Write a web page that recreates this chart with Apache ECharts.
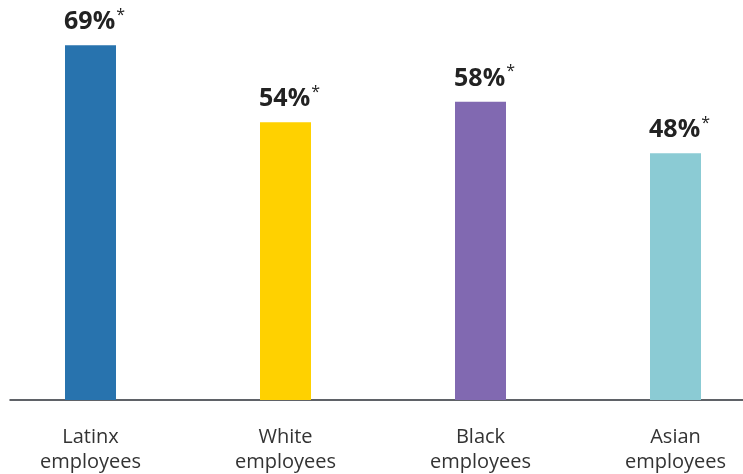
<!DOCTYPE html>
<html><head><meta charset="utf-8">
<script src="https://cdn.jsdelivr.net/npm/echarts@6/dist/echarts.min.js"></script>
<style>html,body{margin:0;padding:0;background:#fff}#c{width:743px;height:474px}</style>
</head><body><div id="c"></div>
<script>
const categories = ["Latinx\nemployees", "White\nemployees", "Black\nemployees", "Asian\nemployees"];
const values = [69, 54, 58, 48];
const barColors = ["#2873AE", "#FFD100", "#8169B1", "#8BCBD4"];
const labelSuffix = "*";

const chart = echarts.init(document.getElementById('c'), null, {renderer: 'canvas'});
chart.setOption({
  animation: false,
  backgroundColor: '#fff',
  grid: [
    {left: -7, width: 780, top: 40, height: 360, containLabel: false, outerBoundsMode: 'none'},
    {left: 10, right: 0, top: 40, height: 360, containLabel: false, outerBoundsMode: 'none'}
  ],
  xAxis: [
    {type: 'category', gridIndex: 0, data: categories,
     axisLine: {show: false}, axisTick: {show: false},
     axisLabel: {margin: 25, fontFamily: 'Open Sans', fontSize: 20, color: '#333', lineHeight: 25}},
    {type: 'category', gridIndex: 1, data: [''],
     axisLine: {show: true, lineStyle: {color: '#2b2f36', width: 1.5}},
     axisTick: {show: false}, axisLabel: {show: false}}
  ],
  yAxis: [
    {type: 'value', gridIndex: 0, min: 0, max: 70, show: false},
    {type: 'value', gridIndex: 1, min: 0, max: 70, show: false}
  ],
  series: [{
    type: 'bar', xAxisIndex: 0, yAxisIndex: 0, barWidth: 51,
    data: values.map((v, i) => ({value: v, itemStyle: {color: barColors[i]}})),
    label: {
      show: true, position: 'top', distance: 8, offset: [4, 0],
      formatter: p => '{v|' + p.value + '%}{s|' + labelSuffix + '}',
      rich: {
        v: {fontFamily: 'Open Sans', fontWeight: 'bold', fontSize: 25, color: '#222', lineHeight: 30},
        s: {fontFamily: 'Open Sans', fontWeight: 'normal', fontSize: 16, color: '#222', verticalAlign: 'top', padding: [0, 0, 12, 1]}
      }
    }
  }]
});
</script></body></html>
